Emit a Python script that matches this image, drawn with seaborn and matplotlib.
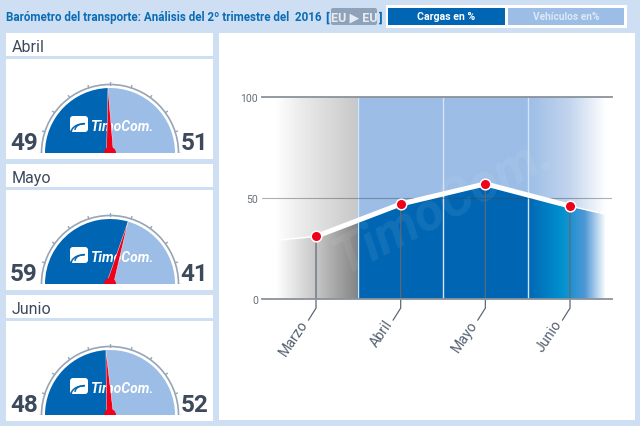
import numpy as np
import pandas as pd
import matplotlib
matplotlib.use("Agg")
import matplotlib.pyplot as plt
import seaborn as sns
from matplotlib.colors import LinearSegmentedColormap
from matplotlib.patches import Rectangle, Wedge, Circle, Polygon, FancyBboxPatch, Arc
from matplotlib.transforms import ScaledTranslation

# ---------- data ----------
trend_months = ["Marzo", "Abril", "Mayo", "Junio"]
trend_values = [31, 47, 57, 46]
fade_start_value = 29
fade_end_value = 41.5
gauge_months = ["Abril", "Mayo", "Junio"]
gauge_loads = [49, 59, 48]
gauge_vehicles = [51, 41, 52]
y_ticks = [0, 50, 100]
title_text = "Barómetro del transporte: Análisis del 2º trimestre del  2016"
legend_labels = ["Cargas en %", "Vehículos en%"]

# ---------- palette ----------
BG = "#cfdff3"
BLUE = "#0066b3"
LIGHT = "#9bbde6"
INK = "#3c4a5c"
RED = "#f0001a"
TITLE = "#0a6cb5"

sns.set_theme(style="white")
plt.rcParams["font.family"] = ["Roboto", "DejaVu Sans"]

W, H = 640, 427
fig = plt.figure(figsize=(W / 100, H / 100), dpi=100, facecolor=BG)


def px_axes(x0, y0, x1, y1, **kw):
    return fig.add_axes([x0 / W, 1 - y1 / H, (x1 - x0) / W, (y1 - y0) / H], **kw)


# ---------- layout layer in pixel coordinates ----------
bg = px_axes(0, 0, W, H, zorder=0)
bg.set_xlim(0, W)
bg.set_ylim(H, 0)
bg.axis("off")


def box(x0, y0, x1, y1, color="white", **kw):
    bg.add_patch(Rectangle((x0, y0), x1 - x0, y1 - y0, fc=color, ec="none", **kw))


box(219, 34, 635, 421)
panel_tops = [34, 165, 296]
for top, name in zip(panel_tops, gauge_months):
    box(6, top, 213, top + 23)
    box(6, top + 26, 213, top + 126)
    bg.text(12, top + 13.5, name, fontsize=11.5, color=INK, va="center", ha="left")

bg.text(6, 18, title_text, fontsize=8.35, fontweight="bold", color=TITLE, va="center", ha="left")
bg.text(325, 18, "[", fontsize=9.5, fontweight="bold", color=TITLE, va="center", ha="left")
bg.text(379, 18, "]", fontsize=9.5, fontweight="bold", color=TITLE, va="center", ha="left")
bg.add_patch(FancyBboxPatch((331, 9), 46, 17, boxstyle="round,pad=0,rounding_size=2",
                            fc="#8ea3b9", ec="none"))
bg.text(354, 18, "EU ▶ EU", fontsize=9, fontweight="bold", color="#e6ebf2",
        va="center", ha="center", family=["Roboto", "DejaVu Sans"])

box(386, 6, 627, 29)
box(388, 9, 505, 26, BLUE)
box(508, 9, 624, 26, LIGHT)
bg.text(446.5, 17.5, legend_labels[0], fontsize=7.6, fontweight="bold", color="white",
        va="center", ha="center")
bg.text(566, 17.5, legend_labels[1], fontsize=7.3, fontweight="bold", color="#dce8f6",
        va="center", ha="center")


# ---------- gauges ----------
def draw_logo(ax):
    ax.add_patch(FancyBboxPatch((-40, 21), 18, 16, boxstyle="round,pad=0,rounding_size=3",
                                fc="white", ec="none", zorder=3))
    ax.add_patch(Arc((-27, 20), 24, 18, theta1=80, theta2=175, color=BLUE, lw=1.1, zorder=4))
    ax.add_patch(Arc((-25, 23), 20, 13, theta1=90, theta2=180, color=BLUE, lw=1.0, zorder=4))
    ax.text(-20, 27, "TimoCom.", fontsize=10, fontweight="bold", style="italic", color="white",
            va="center", ha="left", zorder=3)


for top, load, veh in zip(panel_tops, gauge_loads, gauge_vehicles):
    base = top + 120
    ax = px_axes(35, base - 75, 185, base, zorder=2)
    ax.set_xlim(-75, 75)
    ax.set_ylim(0, 75)
    ax.set_aspect("equal")
    ax.axis("off")
    split = 180 - 1.8 * load
    ax.add_patch(Wedge((0, 0), 65, split, 180, fc=BLUE, ec="none"))
    ax.add_patch(Wedge((0, 0), 65, 0, split, fc=LIGHT, ec="none"))
    ax.add_patch(Arc((0, 0), 137, 137, theta1=0, theta2=180, color="#98a5b5", lw=1.2))
    for pct in range(0, 101, 10):
        t = np.deg2rad(180 - 1.8 * pct)
        ax.plot([68.5 * np.cos(t), 71 * np.cos(t)], [68.5 * np.sin(t), 71 * np.sin(t)],
                color="#98a5b5", lw=1)
    draw_logo(ax)
    t = np.deg2rad(split)
    u = np.array([np.cos(t), np.sin(t)])
    n = np.array([-u[1], u[0]])
    ax.add_patch(Polygon([65 * u, 3.5 * n, -3.5 * n], closed=True, fc=RED, ec="white", lw=0.3, zorder=5))
    ax.add_patch(Circle((0, 0), 6, fc=RED, ec="none", zorder=6))
    bg.text(24, base - 10, str(load), fontsize=17.5, fontweight="bold", color=INK, va="center", ha="center")
    bg.text(194.5, base - 10, str(veh), fontsize=17.5, fontweight="bold", color=INK, va="center", ha="center")

# ---------- main chart ----------
ax = px_axes(262, 98, 612, 300, zorder=1)
ax.patch.set_alpha(0)
positions = list(range(len(trend_months)))
xl = (-0.638, 3.496)
x_full = [-0.47] + positions + [3.47]
y_full = [fade_start_value] + trend_values + [fade_end_value]


def frac(px):
    return (px - 262) / 350


upper = LinearSegmentedColormap.from_list("u", [
    (0, "#ffffff"), (frac(276), "#ffffff"), (frac(300), "#ececec"), (frac(357), "#c8c8c8"),
    (frac(358), LIGHT), (frac(527), LIGHT), (frac(570), "#c3d5ee"), (frac(606), "#ffffff"), (1, "#ffffff")], N=1024)
lower = LinearSegmentedColormap.from_list("l", [
    (0, "#ffffff"), (frac(276), "#ffffff"), (frac(316), "#c6c6c6"), (frac(357), "#858585"),
    (frac(358), BLUE), (frac(527), BLUE), (frac(562), "#0090cf"), (frac(585), "#4f97d5"), (frac(606), "#ffffff"), (1, "#ffffff")], N=1024)
grad = np.linspace(0, 1, 1024).reshape(1, -1)

x_poly = np.array(x_full)
y_poly = np.array(y_full, dtype=float)
lo = ax.fill_between(x_poly, 0, y_poly, color="none")
hi = ax.fill_between(x_poly, y_poly, 100, color="none")
for cmap, poly in ((lower, lo), (upper, hi)):
    im = ax.imshow(grad, cmap=cmap, extent=(*xl, 0, 100), aspect="auto", origin="lower", zorder=1)
    im.set_clip_path(poly.get_paths()[0], transform=ax.transData)

ax.text(1.5, 47, "TimoCom.", fontsize=38, fontweight="bold", style="italic", rotation=28,
        color="#ffffff", alpha=0.07, ha="center", va="center", zorder=2)

ax.vlines([0.5, 1.5, 2.5], 0, 100, color="#d5e3f5", lw=1, zorder=3)

# leader lines to the slanted month labels
for i, v in zip(positions, trend_values):
    ax.plot([i, i, i - 0.09], [v, -4.5, -10.5], color="#5d6876", lw=0.9, clip_on=False, zorder=4)

ax.plot(x_full[:2], y_full[:2], color="white", lw=1, zorder=5)
ax.plot(x_full[-2:], y_full[-2:], color="white", lw=1, zorder=5)
df = pd.DataFrame({"pos": positions, "value": trend_values})
sns.lineplot(data=df, x="pos", y="value", ax=ax, color="white", lw=3.6, zorder=5, legend=False)
sns.scatterplot(data=df, x="pos", y="value", ax=ax, color=RED, s=58, edgecolor="white", linewidth=1.1,
                zorder=6, legend=False, clip_on=False)

ax.set_xlim(*xl)
ax.set_ylim(0, 100)
ax.set_xlabel("")
ax.set_ylabel("")
ax.set_yticks(y_ticks)
ax.set_xticks(positions)
ax.set_xticklabels(trend_months, rotation=56, ha="right", rotation_mode="anchor",
                   fontsize=10.2, color="#566272")
ax.tick_params(axis="x", length=0, pad=13)
shift = ScaledTranslation(-12 / 72, 0, fig.dpi_scale_trans)
for lab in ax.get_xticklabels():
    lab.set_transform(lab.get_transform() + shift)
ax.tick_params(axis="y", length=0, pad=3, labelsize=7.5, labelcolor="#666d75")
ax.grid(False)
ax.axhline(50, color="#3c4650", lw=0.8, alpha=0.42, zorder=4)
for s in ("left", "right"):
    ax.spines[s].set_visible(False)
for s in ("top", "bottom"):
    ax.spines[s].set_visible(True)
    ax.spines[s].set_color("#8a929b")
    ax.spines[s].set_linewidth(1.3)
    ax.spines[s].set_zorder(7)

fig.savefig("out.png", dpi=100, facecolor=BG)
